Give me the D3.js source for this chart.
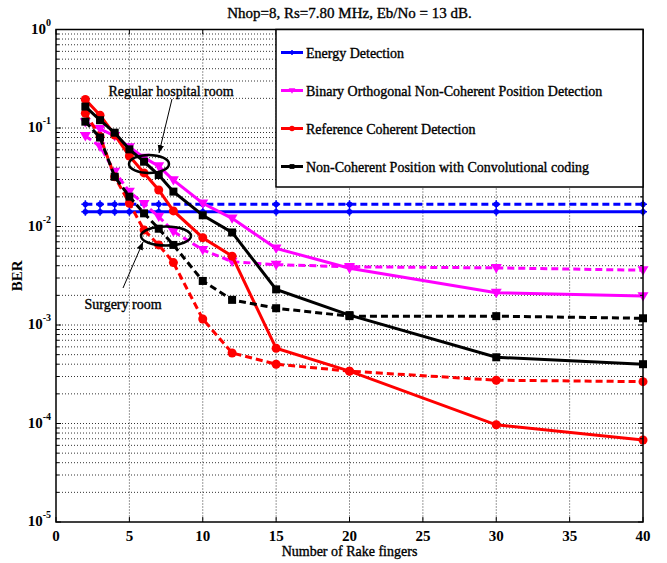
<!DOCTYPE html>
<html>
<head>
<meta charset="utf-8">
<script src="https://cdn.jsdelivr.net/npm/d3@7/dist/d3.min.js"></script>
<style>
  body { margin: 0; background: #fff; }
  text.heavy { stroke: #000; stroke-width: 0.35px; }
</style>
</head>
<body>
<div id="VizBox"></div>
<script>
// rake fingers on the x axis
var fingers = [2, 3, 4, 5, 6, 7, 8, 10, 12, 15, 20, 30, 40];
var fingersEnergy = [2, 3, 4, 5, 7, 10, 15, 20, 30, 40];

// BER values (solid = regular hospital room, dashed = surgery room)
var energyRegular = [0.0141, 0.0141, 0.0141, 0.0141, 0.0141, 0.0141, 0.0141, 0.0141, 0.0141, 0.0141];
var energySurgery = [0.0168, 0.0168, 0.0168, 0.0168, 0.0168, 0.0168, 0.0168, 0.0168, 0.0168, 0.0168];
var binaryRegular = [0.115, 0.098, 0.083, 0.064, 0.05, 0.041, 0.0296, 0.0172, 0.0121, 0.006, 0.00377, 0.00213, 0.00197];
var binarySurgery = [0.083, 0.065, 0.036, 0.0226, 0.017, 0.0126, 0.0089, 0.0058, 0.0044, 0.0041, 0.0039, 0.0038, 0.0036];
var refRegular = [0.195, 0.135, 0.085, 0.052, 0.035, 0.0235, 0.0144, 0.0077, 0.005, 0.00058, 0.00034, 0.000097, 0.000068];
var refSurgery = [0.141, 0.082, 0.032, 0.0172, 0.0092, 0.0065, 0.0043, 0.00115, 0.00052, 0.0004, 0.00034, 0.000275, 0.000266];
var convRegular = [0.165, 0.12, 0.0896, 0.0607, 0.0455, 0.0333, 0.0226, 0.013, 0.0087, 0.0023, 0.00126, 0.00047, 0.0004];
var convSurgery = [0.116, 0.08, 0.032, 0.0201, 0.0136, 0.0095, 0.0065, 0.0028, 0.0018, 0.00148, 0.00123, 0.00123, 0.00117];

var xTicks = [0, 5, 10, 15, 20, 25, 30, 35, 40];
var yTicks = [0, -1, -2, -3, -4, -5];
var legendNames = ["Energy Detection", "Binary Orthogonal Non-Coherent Position Detection",
  "Reference Coherent Detection", "Non-Coherent Position with Convolutional coding"];

var W = 667, H = 563;
var margin = {top: 29.5, right: 24, bottom: 41, left: 56};
var width = W - margin.left - margin.right;
var height = H - margin.top - margin.bottom;

var svg = d3.select("#VizBox")
  .append("svg")
    .attr("width", W)
    .attr("height", H)
    .attr("font-family", "'Liberation Serif', 'Times New Roman', serif")
  .append("g")
    .attr("transform", "translate(" + margin.left + "," + margin.top + ")");

var x = d3.scaleLinear().domain([0, 40]).range([0, width]);
var y = d3.scaleLog().domain([1e-5, 1]).range([height, 0]);

// grid: dotted lines at every major x tick and every log minor tick
var grid = svg.append("g")
  .attr("stroke", "#000")
  .attr("stroke-width", 0.8)
  .attr("stroke-dasharray", "1,2");
xTicks.slice(1, -1).forEach(function(t) {
  grid.append("line").attr("x1", x(t)).attr("x2", x(t)).attr("y1", 0).attr("y2", height);
});
var yGrid = [];
for (var e = -5; e < 0; e++) {
  for (var m = 1; m < 10; m++) yGrid.push(m * Math.pow(10, e));
}
yGrid.forEach(function(v) {
  if (v <= 1e-5) return;
  grid.append("line").attr("x1", 0).attr("x2", width).attr("y1", y(v)).attr("y2", y(v));
});

// series
var series = [
  {xs: fingersEnergy, ys: energyRegular, color: "#0000ff", mark: "plus", dash: null},
  {xs: fingersEnergy, ys: energySurgery, color: "#0000ff", mark: "plus", dash: "7,4"},
  {xs: fingers, ys: binaryRegular, color: "#ff00ff", mark: "tri", dash: null},
  {xs: fingers, ys: binarySurgery, color: "#ff00ff", mark: "tri", dash: "7,4"},
  {xs: fingers, ys: refRegular, color: "#ff0000", mark: "circle", dash: null},
  {xs: fingers, ys: refSurgery, color: "#ff0000", mark: "circle", dash: "7,4"},
  {xs: fingers, ys: convRegular, color: "#000000", mark: "square", dash: null},
  {xs: fingers, ys: convSurgery, color: "#000000", mark: "square", dash: "7,4"}
];

var line = d3.line()
  .x(function(d) { return x(d[0]); })
  .y(function(d) { return y(d[1]); });

function drawMarker(g, kind, cx, cy, color, s) {
  if (kind == "circle") {
    g.append("circle").attr("cx", cx).attr("cy", cy).attr("r", 4.5 * s).attr("fill", color);
  } else if (kind == "square") {
    g.append("rect").attr("x", cx - 4 * s).attr("y", cy - 4 * s)
      .attr("width", 8 * s).attr("height", 8 * s).attr("fill", color);
  } else if (kind == "tri") {
    var r = 5.5 * s;
    g.append("path")
      .attr("d", "M" + (cx - r) + "," + (cy - r * 0.7) + "L" + (cx + r) + "," + (cy - r * 0.7) + "L" + cx + "," + (cy + r))
      .attr("fill", color);
  } else {
    g.append("circle").attr("cx", cx).attr("cy", cy).attr("r", 2.8 * s).attr("fill", color);
    g.append("path")
      .attr("d", "M" + (cx - 4 * s) + "," + cy + "H" + (cx + 4 * s) + "M" + cx + "," + (cy - 4 * s) + "V" + (cy + 4 * s))
      .attr("stroke", color).attr("stroke-width", 1.5);
  }
}

var plot = svg.append("g");
series.forEach(function(s) {
  var pts = s.xs.map(function(v, i) { return [v, s.ys[i]]; });
  plot.append("path")
    .datum(pts)
    .attr("d", line)
    .attr("fill", "none")
    .attr("stroke", s.color)
    .attr("stroke-width", 3)
    .attr("stroke-dasharray", s.dash);
  var mg = plot.append("g");
  pts.forEach(function(p) { drawMarker(mg, s.mark, x(p[0]), y(p[1]), s.color, 1); });
});

// box and inward ticks
svg.append("rect")
  .attr("width", width).attr("height", height)
  .attr("fill", "none").attr("stroke", "#000").attr("stroke-width", 1.5);
var ticks = svg.append("g").attr("stroke", "#000").attr("stroke-width", 1);
xTicks.forEach(function(t) {
  ticks.append("line").attr("x1", x(t)).attr("x2", x(t)).attr("y1", height).attr("y2", height - 5);
  ticks.append("line").attr("x1", x(t)).attr("x2", x(t)).attr("y1", 0).attr("y2", 5);
});
yGrid.forEach(function(v) {
  var len = (Math.abs(Math.log10(v) - Math.round(Math.log10(v))) < 1e-9) ? 5 : 3;
  ticks.append("line").attr("x1", 0).attr("x2", len).attr("y1", y(v)).attr("y2", y(v));
  ticks.append("line").attr("x1", width).attr("x2", width - len).attr("y1", y(v)).attr("y2", y(v));
});

// x tick labels
svg.append("g").selectAll("text")
  .data(xTicks)
  .enter()
  .append("text")
    .attr("x", function(d) { return x(d); })
    .attr("y", height + 19)
    .attr("text-anchor", "middle")
    .attr("font-size", "15px")
    .attr("font-weight", "bold")
    .text(function(d) { return d; });

// y tick labels 10^e
var yl = svg.append("g").selectAll("text")
  .data(yTicks)
  .enter()
  .append("text")
    .attr("x", -5)
    .attr("y", function(d) { return y(Math.pow(10, d)) + 4; })
    .attr("text-anchor", "end")
    .attr("font-size", "15px")
    .attr("font-weight", "bold");
yl.append("tspan").text("10");
yl.append("tspan").attr("dy", -8).attr("font-size", "10px").text(function(d) { return d; });

// axis titles
svg.append("text")
  .attr("class", "heavy")
  .attr("x", width / 2).attr("y", height + 34)
  .attr("text-anchor", "middle")
  .attr("font-size", "14px")
  .text("Number of Rake fingers");
svg.append("text")
  .attr("transform", "translate(-34," + (height / 2) + ")rotate(-90)")
  .attr("text-anchor", "middle")
  .attr("font-size", "15px")
  .attr("font-weight", "bold")
  .text("BER");
svg.append("text")
  .attr("class", "heavy")
  .attr("x", width / 2).attr("y", -12)
  .attr("text-anchor", "middle")
  .attr("font-size", "15px")
  .text("Nhop=8, Rs=7.80 MHz, Eb/No = 13 dB.");

// legend
var lg = svg.append("g").attr("transform", "translate(" + (276 - margin.left) + ",0)");
lg.append("rect")
  .attr("width", 643 - 276).attr("height", 187 - margin.top)
  .attr("fill", "#fff").attr("stroke", "#000").attr("stroke-width", 1.5);
var legendColors = ["#0000ff", "#ff00ff", "#ff0000", "#000000"];
var legendMarks = ["plus", "tri", "circle", "square"];
legendNames.forEach(function(name, i) {
  var ly = 23 + i * 38;
  lg.append("line").attr("x1", 5).attr("x2", 27).attr("y1", ly).attr("y2", ly)
    .attr("stroke", legendColors[i]).attr("stroke-width", 3);
  drawMarker(lg, legendMarks[i], 16, ly, legendColors[i], 0.6);
  lg.append("text")
    .attr("class", "heavy")
    .attr("x", 30).attr("y", ly + 5)
    .attr("font-size", "14px")
    .text(name);
});

// annotations
var ann = svg.append("g").attr("transform", "translate(" + (-margin.left) + "," + (-margin.top) + ")");
ann.append("ellipse").attr("cx", 149).attr("cy", 164).attr("rx", 20).attr("ry", 9)
  .attr("fill", "none").attr("stroke", "#000").attr("stroke-width", 2.5);
ann.append("ellipse").attr("cx", 166).attr("cy", 236).attr("rx", 25).attr("ry", 9.5)
  .attr("fill", "none").attr("stroke", "#000").attr("stroke-width", 2.5);
ann.append("defs").append("marker")
  .attr("id", "arr").attr("viewBox", "0 0 10 10").attr("refX", 10).attr("refY", 5)
  .attr("markerWidth", 8).attr("markerHeight", 8).attr("orient", "auto")
  .append("path").attr("d", "M0,1L10,5L0,9Z").attr("fill", "#000");
ann.append("line").attr("x1", 172).attr("y1", 99).attr("x2", 159).attr("y2", 153)
  .attr("stroke", "#000").attr("stroke-width", 1).attr("marker-end", "url(#arr)");
ann.append("line").attr("x1", 123).attr("y1", 288).attr("x2", 143).attr("y2", 242)
  .attr("stroke", "#000").attr("stroke-width", 1).attr("marker-end", "url(#arr)");
ann.append("text").attr("class", "heavy").attr("x", 171).attr("y", 96).attr("text-anchor", "middle")
  .attr("font-size", "14px").text("Regular hospital room");
ann.append("text").attr("class", "heavy").attr("x", 123).attr("y", 309).attr("text-anchor", "middle")
  .attr("font-size", "14px").text("Surgery room");
</script>
</body>
</html>
